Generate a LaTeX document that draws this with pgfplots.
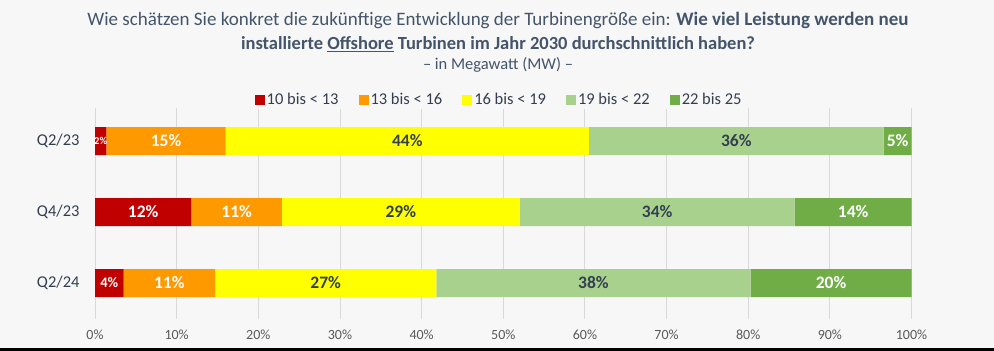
\documentclass[border=0pt]{standalone}
\usepackage{pgfplots}
\pgfplotsset{compat=1.18}
\usepackage{fontspec}
\setmainfont{Carlito}
\definecolor{bg}{HTML}{F7F7F7}
\definecolor{c1}{HTML}{C00000}
\definecolor{c2}{HTML}{FF9900}
\definecolor{c3}{HTML}{FFFF00}
\definecolor{c4}{HTML}{A9D18E}
\definecolor{c5}{HTML}{70AD47}
\definecolor{titlec}{HTML}{44546A}
\definecolor{darkt}{HTML}{333F50}
\definecolor{tickc}{HTML}{595959}
\definecolor{gridc}{HTML}{D9D9D9}
\protected\def\sm#1{{\fontsize{10.5bp}{11bp}\selectfont #1}}
\protected\def\md#1{{\fontsize{14.5bp}{15bp}\selectfont #1}}
\protected\def\pc{\%}
\begin{document}
\begin{tikzpicture}
\fill[bg] (-95bp,-32bp) rectangle (899bp,319bp);
\fill[black] (-95bp,-32bp) rectangle (899bp,-29bp);
\node[font=\fontsize{19bp}{22bp}\selectfont, text=titlec, inner sep=0pt] at (403bp,299bp) {Wie schätzen Sie konkret die zukünftige Entwicklung der Turbinengröße ein: \textbf{Wie viel Leistung werden neu}};
\node[font=\fontsize{18.5bp}{22bp}\selectfont, text=titlec, inner sep=0pt] at (403bp,275bp) {\textbf{installierte \underline{Offshore} Turbinen im Jahr 2030 durchschnittlich haben?}};
\node[font=\fontsize{16.5bp}{20bp}\selectfont, text=titlec, inner sep=0pt] at (403bp,254bp) {– in Megawatt (MW) –};
\begin{axis}[
  at={(0,0)}, anchor=south west, scale only axis,
  width=816.5bp, height=211bp,
  xbar stacked, bar width=28bp,
  xmin=0, xmax=100, ymin=-0.465, ymax=2.507, y dir=reverse,
  ytick={0,1,2}, yticklabels={Q2/23,Q4/23,Q2/24},
  yticklabel style={font=\fontsize{16.5bp}{18bp}\selectfont, text=darkt, xshift=-12bp},
  xtick={0,10,...,100},
  xticklabel={\pgfmathprintnumber{\tick}\%},
  xticklabel style={font=\fontsize{14bp}{16bp}\selectfont, text=tickc, yshift=-7bp},
  /pgf/number format/assume math mode=true,
  xmajorgrids, grid style={gridc, line width=0.9bp},
  axis line style={draw=none}, major tick style={draw=none},
  clip=false,
  point meta=explicit symbolic,
  nodes near coords={\pgfplotspointmeta},
  every node near coord/.style={anchor=center, inner sep=0pt, font=\fontsize{17.5bp}{18bp}\selectfont\bfseries},
  legend columns=5,
  legend style={at={(0.495,1.038)}, anchor=center, draw=none, fill=bg, font=\fontsize{16.5bp}{18bp}\selectfont, text=darkt, inner sep=1bp, /tikz/every even column/.append style={column sep=18bp}},
  legend image code/.code={\fill[#1] (0bp,-5bp) rectangle (10bp,5bp);},
]
\addplot[fill=c1, draw=none, every node near coord/.append style={text=white}] coordinates {(1.4,0) [\sm{2\pc}] (11.8,1) [12\pc] (3.5,2) [\md{4\pc}]};
\addplot[fill=c2, draw=none, every node near coord/.append style={text=white}] coordinates {(14.6,0) [15\pc] (11.1,1) [11\pc] (11.2,2) [11\pc]};
\addplot[fill=c3, draw=none, every node near coord/.append style={text=darkt}] coordinates {(44.5,0) [44\pc] (29.1,1) [29\pc] (27.1,2) [27\pc]};
\addplot[fill=c4, draw=none, every node near coord/.append style={text=darkt}] coordinates {(36.1,0) [36\pc] (33.7,1) [34\pc] (38.5,2) [38\pc]};
\addplot[fill=c5, draw=none, every node near coord/.append style={text=white}] coordinates {(3.4,0) [5\pc] (14.3,1) [14\pc] (19.7,2) [20\pc]};
\legend{10 bis < 13, 13 bis < 16, 16 bis < 19, 19 bis < 22, 22 bis 25}
\end{axis}
\end{tikzpicture}
\end{document}
